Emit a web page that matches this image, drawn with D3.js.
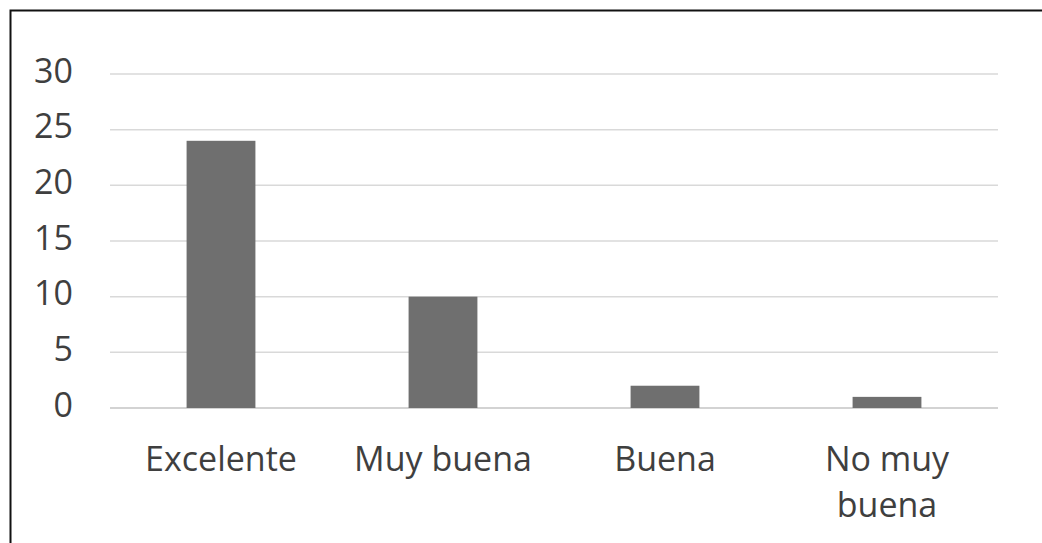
<!DOCTYPE html>
<html><head><meta charset="utf-8">
<script src="https://cdn.jsdelivr.net/npm/d3@7"></script>
<style>html,body{margin:0;padding:0;background:#fff;}svg{display:block;}</style>
</head><body>
<script>
const categories = [["Excelente"], ["Muy buena"], ["Buena"], ["No muy", "buena"]];
const values = [24, 10, 2, 1];
const yTicks = [0, 5, 10, 15, 20, 25, 30];

const W = 1042, H = 543;
const svg = d3.select("body").append("svg").attr("width", W).attr("height", H);

svg.append("rect").attr("x", 10.5).attr("y", 10.5).attr("width", W).attr("height", H)
  .attr("fill", "#fff").attr("stroke", "#111").attr("stroke-width", 2);

const x = d3.scaleBand().domain(categories.map((d, i) => i)).range([110, 998]).paddingInner(0.69).paddingOuter(0.345);
const y = d3.scaleLinear().domain([0, 30]).range([408, 74]);

const font = "'Open Sans', sans-serif";
const grid = svg.append("g");
grid.selectAll("line").data(yTicks).join("line")
  .attr("x1", 110).attr("x2", 998)
  .attr("y1", d => y(d)).attr("y2", d => y(d))
  .attr("stroke", d => d === 0 ? "#c4c4c4" : "#d9d9d9").attr("stroke-width", 1.5);

svg.append("g").selectAll("text").data(yTicks).join("text")
  .attr("x", 73).attr("y", d => y(d)).attr("dy", "0.25em")
  .attr("text-anchor", "end").attr("font-family", font).attr("font-size", 34)
  .attr("fill", "#3f3f3f").text(d => d);

svg.append("g").selectAll("rect").data(values).join("rect")
  .attr("x", (d, i) => x(i)).attr("width", x.bandwidth())
  .attr("y", d => y(d)).attr("height", d => y(0) - y(d))
  .attr("fill", "#6f6f6f");

const lab = svg.append("g").selectAll("text").data(categories).join("text")
  .attr("x", (d, i) => x(i) + x.bandwidth() / 2).attr("y", 471)
  .attr("text-anchor", "middle").attr("font-family", font).attr("font-size", 34)
  .attr("fill", "#3f3f3f");
lab.each(function(d, i) {
  d3.select(this).selectAll("tspan").data(d).join("tspan")
    .attr("x", x(i) + x.bandwidth() / 2).attr("dy", (t, j) => j === 0 ? 0 : 46).text(t => t);
});
</script>
</body></html>
